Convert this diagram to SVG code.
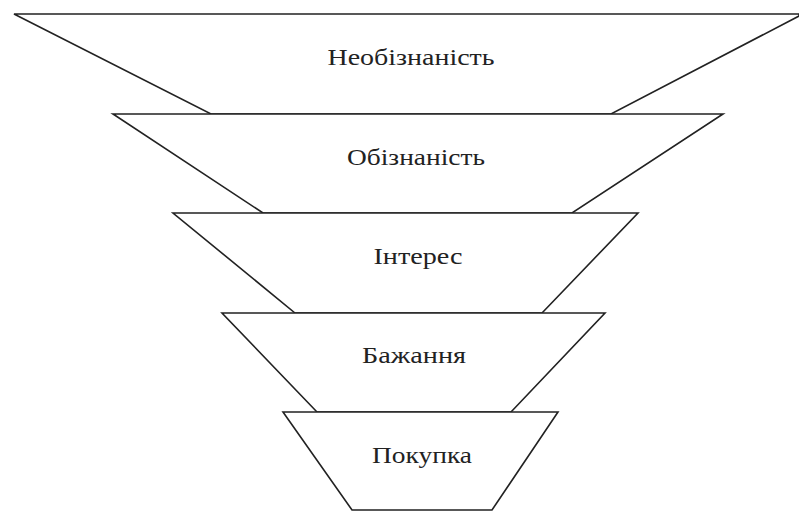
<svg xmlns="http://www.w3.org/2000/svg" width="799" height="512" viewBox="0 0 799 512">
<style>
.t{fill:#fff;stroke:#222;stroke-width:1.6;stroke-linejoin:miter}
.l{font-family:"Liberation Serif","DejaVu Serif",serif;font-size:24px;fill:#222;text-anchor:middle}
</style>
<rect width="799" height="512" fill="#fff"/>
<g id="stage1"><polygon class="t" points="14,14 799,14 799,16 611,114 211,114"/><text class="l" x="411" y="65" textLength="167" lengthAdjust="spacingAndGlyphs">Необізнаність</text></g>
<g id="stage2"><polygon class="t" points="113,114 723,114 572,213 263,213"/><text class="l" x="416" y="165" textLength="138" lengthAdjust="spacingAndGlyphs">Обізнаність</text></g>
<g id="stage3"><polygon class="t" points="173,213 638,213 542,313 295,313"/><text class="l" x="418" y="264" textLength="89" lengthAdjust="spacingAndGlyphs">Інтерес</text></g>
<g id="stage4"><polygon class="t" points="222,313 605,313 511,412 317,412"/><text class="l" x="414" y="363" textLength="104" lengthAdjust="spacingAndGlyphs">Бажання</text></g>
<g id="stage5"><polygon class="t" points="283,412 558,412 492,510 352,510"/><text class="l" x="422" y="463" textLength="100" lengthAdjust="spacingAndGlyphs">Покупка</text></g>
<g id="connectors"></g>
</svg>
